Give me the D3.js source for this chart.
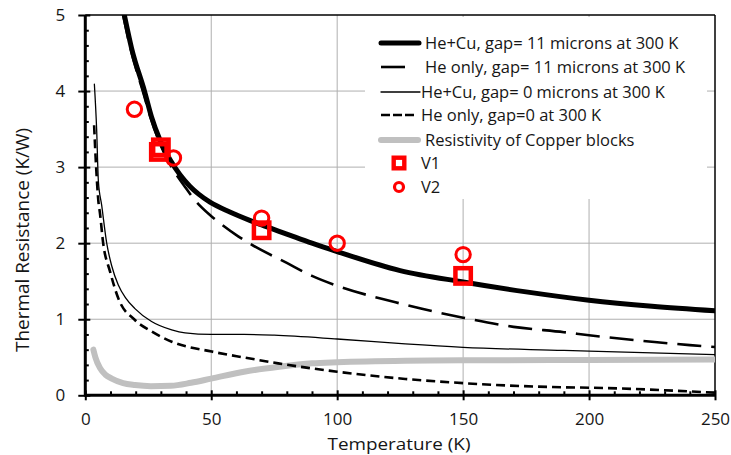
<!DOCTYPE html>
<html><head><meta charset="utf-8">
<script src="https://cdn.jsdelivr.net/npm/d3@7/dist/d3.min.js"></script>
<style>
body{margin:0;background:#fff}
svg text{font-family:'Open Sans',sans-serif;fill:#161616}
</style>
</head><body>
<svg id="c" width="731" height="455"></svg>
<script>
// ---------- data ----------
const xTicks = [0, 50, 100, 150, 200, 250];
const yTicks = [0, 1, 2, 3, 4, 5];
const xMinor = d3.range(0, 251, 10);
const yMinor = d3.range(0, 5.01, 0.2).map(v => +v.toFixed(1));
const xLabel = "Temperature (K)";
const yLabel = "Thermal Resistance (K/W)";

const legendLabels = [
  "He+Cu, gap= 11 microns at 300 K",
  "He only, gap= 11 microns at 300 K",
  "He+Cu, gap= 0 microns at 300 K",
  "He only, gap=0 at 300 K",
  "Resistivity of Copper blocks",
  "V1",
  "V2"
];

// He+Cu, gap = 11 microns
const heCu11T = [15.5, 18.4, 23.5, 26.3, 29.6, 33.6, 37.6, 41.5, 45, 49.5, 57.4, 65.3, 70, 80, 90, 100, 125, 150, 175, 200, 225, 250];
const heCu11R = [5.0, 4.56, 4.0, 3.66, 3.36, 3.10, 2.90, 2.75, 2.645, 2.54, 2.41, 2.30, 2.24, 2.12, 2.0, 1.89, 1.64, 1.49, 1.36, 1.25, 1.17, 1.11];
// He only, gap = 11 microns
const he11T = [15.0, 18.0, 23.0, 26.0, 29.5, 32.5, 35, 39.6, 42.9, 49.5, 52.8, 60.7, 65, 80, 90, 100, 114, 120, 127, 150, 170, 190, 200, 226, 240, 250];
const he11R = [5.0, 4.55, 3.98, 3.64, 3.32, 3.1, 2.96, 2.74, 2.59, 2.37, 2.28, 2.09, 2.0, 1.74, 1.57, 1.44, 1.30, 1.25, 1.19, 1.02, 0.90, 0.83, 0.79, 0.70, 0.66, 0.635];
// He+Cu, gap = 0
const heCu0T = [3.6, 4.5, 5.2, 6.5, 8.5, 10.5, 13.1, 16, 19.7, 26.3, 34.3, 39.6, 50, 63, 75, 100, 127, 150, 190, 200, 250];
const heCu0R = [4.09, 3.5, 2.81, 2.5, 2.0, 1.7, 1.45, 1.28, 1.14, 0.97, 0.86, 0.82, 0.80, 0.80, 0.79, 0.74, 0.675, 0.63, 0.59, 0.58, 0.535];
// He only, gap = 0
const he0T = [3.5, 4.3, 5.2, 5.8, 7.1, 9.8, 13.1, 19.7, 26.3, 34.3, 50.2, 63.4, 76.6, 100, 127, 150, 190, 200, 250];
const he0R = [3.55, 3.0, 2.55, 2.4, 2.0, 1.63, 1.275, 0.99, 0.84, 0.705, 0.575, 0.495, 0.42, 0.31, 0.215, 0.16, 0.105, 0.10, 0.035];
// Resistivity of copper blocks
const cuT = [3.2, 4, 5.8, 8, 10.5, 15, 19.7, 26, 34, 42, 50, 63, 77, 90, 100, 127, 150, 200, 250];
const cuR = [0.6, 0.5, 0.36, 0.27, 0.22, 0.16, 0.135, 0.12, 0.125, 0.165, 0.22, 0.31, 0.375, 0.42, 0.435, 0.455, 0.46, 0.465, 0.47];

// measurements
const v1T = [29.2, 30, 70, 150];
const v1R = [3.2, 3.26, 2.17, 1.57];
const v2T = [19.5, 35, 70, 100, 150];
const v2R = [3.76, 3.12, 2.33, 2.0, 1.85];

// ---------- drawing ----------
const svg = d3.select("#c");
const x = d3.scaleLinear().domain([0, 250]).range([85.3, 715]);
const y = d3.scaleLinear().domain([0, 5]).range([395.3, 15]);

const zip = (a, b) => a.map((v, i) => [v, b[i]]);

// gridlines
const grid = svg.append("g");
grid.selectAll(".gx").data(xTicks.filter(t => t > 0 && t < 250)).join("line")
  .attr("x1", d => x(d)).attr("x2", d => x(d)).attr("y1", y(5)).attr("y2", y(0))
  .attr("stroke", "#b0b0b0").attr("stroke-width", 1);
grid.selectAll(".gy").data(yTicks.filter(t => t > 0 && t < 5)).join("line")
  .attr("y1", d => y(d)).attr("y2", d => y(d)).attr("x1", x(0)).attr("x2", x(250))
  .attr("stroke", "#b0b0b0").attr("stroke-width", 1);

// legend background (hides grid)
const lg = svg.append("g");
lg.append("rect").attr("x", 365).attr("y", 17).attr("width", 342).attr("height", 182).attr("fill", "#fff");

// plot border top / right
svg.append("line").attr("x1", x(0)).attr("x2", x(250)).attr("y1", y(5)).attr("y2", y(5)).attr("stroke", "#000").attr("stroke-width", 1.5);
svg.append("line").attr("x1", x(250)).attr("x2", x(250)).attr("y1", y(5)).attr("y2", y(0)).attr("stroke", "#000").attr("stroke-width", 1.5);

// clip
svg.append("clipPath").attr("id", "clip").append("rect")
  .attr("x", x(0)).attr("y", y(5)).attr("width", x(250) - x(0)).attr("height", y(0) - y(5));

const line = d3.line().x(d => x(d[0])).y(d => y(d[1])).curve(d3.curveMonotoneX);
const curves = svg.append("g").attr("clip-path", "url(#clip)");

const styles = [
  {w: 5, c: "#000", dash: null},
  {w: 2.6, c: "#000", dash: "24,10"},
  {w: 1.3, c: "#000", dash: null},
  {w: 2.6, c: "#000", dash: "9,5"},
  {w: 6, c: "#c0c0c0", dash: null}
];
const seriesData = [
  zip(cuT, cuR), zip(he0T, he0R), zip(heCu0T, heCu0R), zip(he11T, he11R), zip(heCu11T, heCu11R)
];
const seriesStyle = [styles[4], styles[3], styles[2], styles[1], styles[0]];
seriesData.forEach((d, i) => {
  const s = seriesStyle[i];
  curves.append("path").datum(d).attr("d", line)
    .attr("fill", "none").attr("stroke", s.c).attr("stroke-width", s.w)
    .attr("stroke-dasharray", s.dash).attr("stroke-linecap", s.dash ? "butt" : "round");
});

// markers
const red = "#ff0000";
svg.append("g").selectAll("rect").data(zip(v1T, v1R)).join("rect")
  .attr("x", d => x(d[0]) - 7.7).attr("y", d => y(d[1]) - 7.7)
  .attr("width", 15.4).attr("height", 15.4)
  .attr("fill", "none").attr("stroke", red).attr("stroke-width", 4.5);
svg.append("g").selectAll("circle").data(zip(v2T, v2R)).join("circle")
  .attr("cx", d => x(d[0])).attr("cy", d => y(d[1])).attr("r", 7.2)
  .attr("fill", "none").attr("stroke", red).attr("stroke-width", 3);

// axes
const xAxisG = svg.append("g").attr("transform", `translate(0,${y(0)})`);
xAxisG.call(d3.axisBottom(x).tickValues(xMinor.filter(v => v % 50 !== 0)).tickSize(-4).tickFormat(""));
xAxisG.selectAll("line").attr("stroke-width", 2);
xAxisG.select(".domain").remove();
const xMaj = svg.append("g").attr("transform", `translate(0,${y(0)})`)
  .call(d3.axisBottom(x).tickValues(xTicks).tickSize(5).tickPadding(13).tickFormat(d3.format("d")));
xMaj.selectAll("line").attr("y1", -5).attr("stroke-width", 2);
xMaj.selectAll("text").attr("font-size", 17).attr("fill", "#161616");
xMaj.select(".domain").remove();

const yAxisG = svg.append("g").attr("transform", `translate(${x(0)},0)`);
yAxisG.call(d3.axisLeft(y).tickValues(yMinor.filter(v => Math.abs(v - Math.round(v)) > 1e-6)).tickSize(-3.5).tickFormat(""));
yAxisG.selectAll("line").attr("stroke-width", 2);
yAxisG.select(".domain").remove();
const yMaj = svg.append("g").attr("transform", `translate(${x(0)},0)`)
  .call(d3.axisLeft(y).tickValues(yTicks).tickSize(7).tickPadding(13).tickFormat(d3.format("d")));
yMaj.selectAll("line").attr("x2", -7).attr("x1", 5).attr("stroke-width", 2);
yMaj.selectAll("text").attr("font-size", 17).attr("fill", "#161616");
yMaj.select(".domain").remove();

// axis lines
svg.append("line").attr("x1", x(0)).attr("x2", x(0)).attr("y1", y(5)).attr("y2", y(0) + 1).attr("stroke", "#000").attr("stroke-width", 3);
svg.append("line").attr("x1", x(0) - 1).attr("x2", x(250)).attr("y1", y(0)).attr("y2", y(0)).attr("stroke", "#000").attr("stroke-width", 3);

// axis titles
svg.append("text").attr("x", 399).attr("y", 450).attr("text-anchor", "middle").attr("font-size", 17)
  .attr("textLength", 143).attr("lengthAdjust", "spacingAndGlyphs").text(xLabel);
svg.append("text").attr("transform", "translate(29,240) rotate(-90)").attr("text-anchor", "middle").attr("font-size", 18)
  .attr("textLength", 224).attr("lengthAdjust", "spacingAndGlyphs").text(yLabel);

// legend
const rowY = [43, 67, 92, 115, 140, 163, 187];
const symX = [[381, 419], [381, 405], [381, 420], [381, 414], [381, 418]];
const textX = [425, 425, 421, 421, 425, 421, 421];
styles.forEach((s, i) => {
  lg.append("line").attr("x1", symX[i][0]).attr("x2", symX[i][1]).attr("y1", rowY[i]).attr("y2", rowY[i])
    .attr("stroke", s.c).attr("stroke-width", s.w).attr("stroke-dasharray", s.dash ? (i === 3 ? "9,3" : s.dash) : null)
    .attr("stroke-linecap", s.dash ? "butt" : "round");
});
lg.append("rect").attr("x", 399 - 5.3).attr("y", rowY[5] - 5.3).attr("width", 10.6).attr("height", 10.6)
  .attr("fill", "none").attr("stroke", red).attr("stroke-width", 4.4);
lg.append("circle").attr("cx", 399).attr("cy", rowY[6]).attr("r", 4.5)
  .attr("fill", "none").attr("stroke", red).attr("stroke-width", 3.2);
legendLabels.forEach((t, i) => {
  lg.append("text").attr("x", textX[i]).attr("y", rowY[i]).attr("dy", "0.35em")
    .attr("font-size", 16.5).text(t);
});
</script>
</body></html>
